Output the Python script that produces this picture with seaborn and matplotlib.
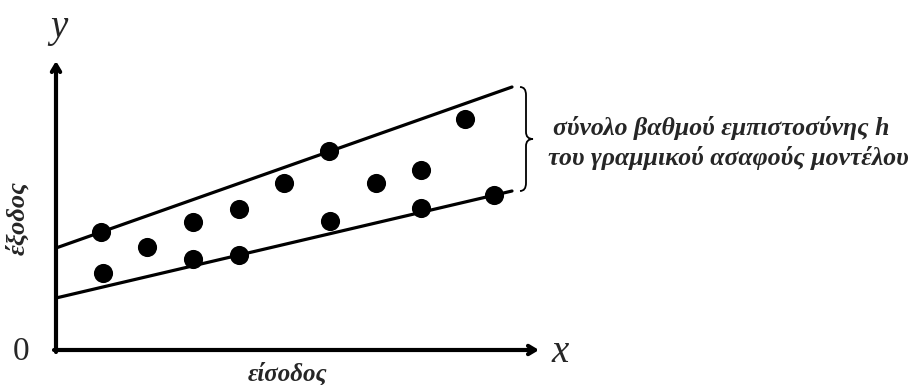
import numpy as np
import pandas as pd
import matplotlib
matplotlib.use("Agg")
import matplotlib.pyplot as plt
import seaborn as sns
from matplotlib.path import Path
from matplotlib.patches import PathPatch

# observed points (input, output)
x_obs = [0.90, 0.94, 1.82, 2.74, 2.74, 3.66, 3.66, 4.56, 5.46, 5.48, 6.40, 7.30, 7.30, 8.18, 8.76]
y_obs = [2.36, 1.54, 2.06, 2.56, 1.82, 2.82, 1.90, 3.34, 3.98, 2.58, 3.34, 3.60, 2.84, 4.62, 3.10]

# upper / lower bound of the fuzzy linear model
x_band = [0.0, 9.12]
y_upper = [2.04, 5.26]
y_lower = [1.04, 3.18]

label_in = "είσοδος"
label_out = "έξοδος"
band_text = ["σύνολο βαθμού εμπιστοσύνης h", "του γραμμικού ασαφούς μοντέλου"]

sns.set_style("white")
plt.rcParams['font.family'] = ['Liberation Serif', 'DejaVu Serif']

fig = plt.figure(figsize=(9.22, 3.85), dpi=100)
ax = fig.add_axes([0, 0, 1, 1])
ax.set_xlim(-1.12, 17.32)
ax.set_ylim(-0.70, 7.00)
ax.set_axis_off()

df_pts = pd.DataFrame({"x": x_obs, "y": y_obs})
df_band = pd.DataFrame({
    "x": x_band + x_band,
    "y": y_upper + y_lower,
    "bound": ["upper"] * 2 + ["lower"] * 2,
})

sns.lineplot(data=df_band, x="x", y="y", units="bound", estimator=None,
             color="black", linewidth=2.3, ax=ax, legend=False)
sns.scatterplot(data=df_pts, x="x", y="y", color="black", s=190,
                edgecolor="black", linewidth=0, ax=ax, legend=False, zorder=3)

# axes arrows
arrow = dict(arrowstyle="->,head_length=0.5,head_width=0.3", color="black",
             lw=3, shrinkA=0, shrinkB=0)
ax.annotate("", xy=(0, 5.78), xytext=(0, -0.04), arrowprops=arrow)
ax.annotate("", xy=(9.66, 0), xytext=(-0.04, 0), arrowprops=arrow)

ax.text(0.06, 6.44, "y", fontsize=28, style="italic", ha="center", va="center")
ax.text(10.08, -0.04, "x", fontsize=28, style="italic", ha="center", va="center")
ax.text(-0.70, -0.04, "0", fontsize=24, ha="center", va="center")

ax.text(4.64, -0.47, label_in, fontsize=18, fontweight="bold", style="italic",
        ha="center", va="center")
ax.text(-0.78, 2.64, label_out, fontsize=19, fontweight="bold", style="italic",
        ha="center", va="center", rotation=90)

# curly brace next to the band
bx, top, bot = 9.40, y_upper[1], y_lower[1]
mid = (top + bot) / 2
verts = [(bx - 0.12, top), (bx, top), (bx, top - 0.16),
         (bx, mid + 0.14),
         (bx, mid), (bx + 0.14, mid),
         (bx, mid), (bx, mid - 0.14),
         (bx, bot + 0.16),
         (bx, bot), (bx - 0.12, bot)]
codes = [Path.MOVETO, Path.CURVE3, Path.CURVE3, Path.LINETO,
         Path.CURVE3, Path.CURVE3, Path.CURVE3, Path.CURVE3,
         Path.LINETO, Path.CURVE3, Path.CURVE3]
ax.add_patch(PathPatch(Path(verts, codes), fill=False, lw=1.3, color="black"))

ax.text(13.30, 4.44, band_text[0], fontsize=18.5, fontweight="bold", style="italic",
        ha="center", va="center")
ax.text(13.44, 3.84, band_text[1], fontsize=18.5, fontweight="bold", style="italic",
        ha="center", va="center")

fig.savefig("out.png", dpi=100)
